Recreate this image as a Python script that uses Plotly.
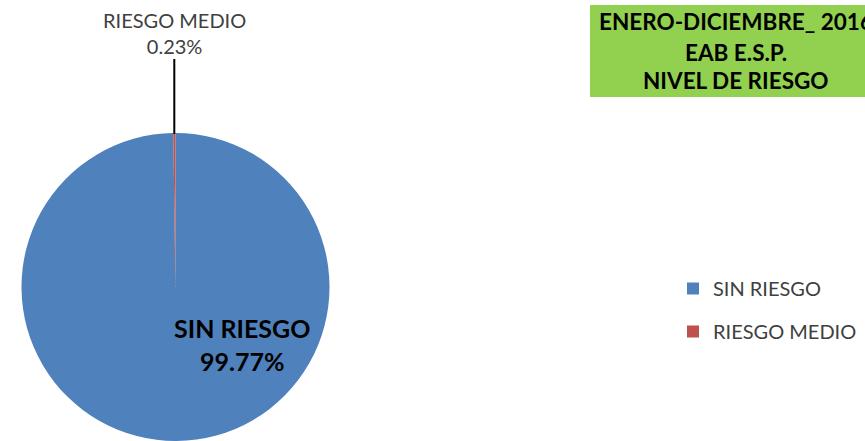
import plotly.graph_objects as go

W, H = 865, 441

# Risk level distribution
categories = ["SIN RIESGO", "RIESGO MEDIO"]
shares = [99.77, 0.23]
colors = ["#4F81BD", "#C0504D"]
title_lines = ["ENERO-DICIEMBRE_ 2016", "EAB E.S.P.", "NIVEL DE RIESGO"]

FONT = "Lato"


def px(x):
    return x / W


def py(y):
    return 1 - y / H


fig = go.Figure()

fig.add_trace(go.Pie(
    labels=categories,
    values=shares,
    marker=dict(colors=colors, line=dict(width=0)),
    sort=False,
    direction="clockwise",
    rotation=0,
    textinfo="none",
    hoverinfo="label+percent",
    showlegend=False,
    domain=dict(x=[0, px(351)], y=[0, py(133)]),
))

# Legend entries, one group per category (square swatches)
for name, col in zip(categories, colors):
    fig.add_trace(go.Bar(
        x=[None], y=[None], name=name, legendgroup=name,
        marker=dict(color=col, line=dict(width=0)),
    ))

annotations = []
# Large inside label
annotations.append(dict(
    x=px(242), y=py(344), xref="paper", yref="paper", showarrow=False,
    xanchor="center", yanchor="middle",
    text=f"<b>{categories[0]}<br>{shares[0]:.2f}%</b>",
    font=dict(family=FONT, size=25, color="#000000"), align="center",
))
# Small slice label above the pie
annotations.append(dict(
    x=px(174), y=py(33), xref="paper", yref="paper", showarrow=False,
    xanchor="center", yanchor="middle",
    text=f"{categories[1]}<br>{shares[1]:.2f}%",
    font=dict(family=FONT, size=20, color="#404040"), align="center",
))
# Title block
for line, yy in zip(title_lines, [21, 52, 80]):
    annotations.append(dict(
        x=px(736), y=py(yy), xref="paper", yref="paper", showarrow=False,
        text=f"<b>{line}</b>", font=dict(family=FONT, size=22.5, color="#000000"),
        xanchor="center", yanchor="middle",
    ))

shapes = [
    dict(type="rect", xref="paper", yref="paper", x0=px(590), x1=px(900),
         y0=py(97), y1=py(5), fillcolor="#92D050", line=dict(width=0), layer="below"),
    dict(type="line", xref="paper", yref="paper", x0=px(174.3), x1=px(174.3),
         y0=py(59), y1=py(134), line=dict(color="#000000", width=2)),
]

fig.update_layout(
    width=W, height=H, autosize=False,
    margin=dict(l=0, r=0, t=0, b=0),
    paper_bgcolor="#FFFFFF", plot_bgcolor="#FFFFFF",
    xaxis=dict(visible=False), yaxis=dict(visible=False),
    annotations=annotations, shapes=shapes,
    showlegend=True,
    legend=dict(
        x=px(673), y=py(269), xanchor="left", yanchor="top",
        font=dict(family=FONT, size=20, color="#404040"),
        traceorder="grouped", tracegroupgap=14,
        bgcolor="rgba(0,0,0,0)",
    ),
)

fig.write_html("out.html")
